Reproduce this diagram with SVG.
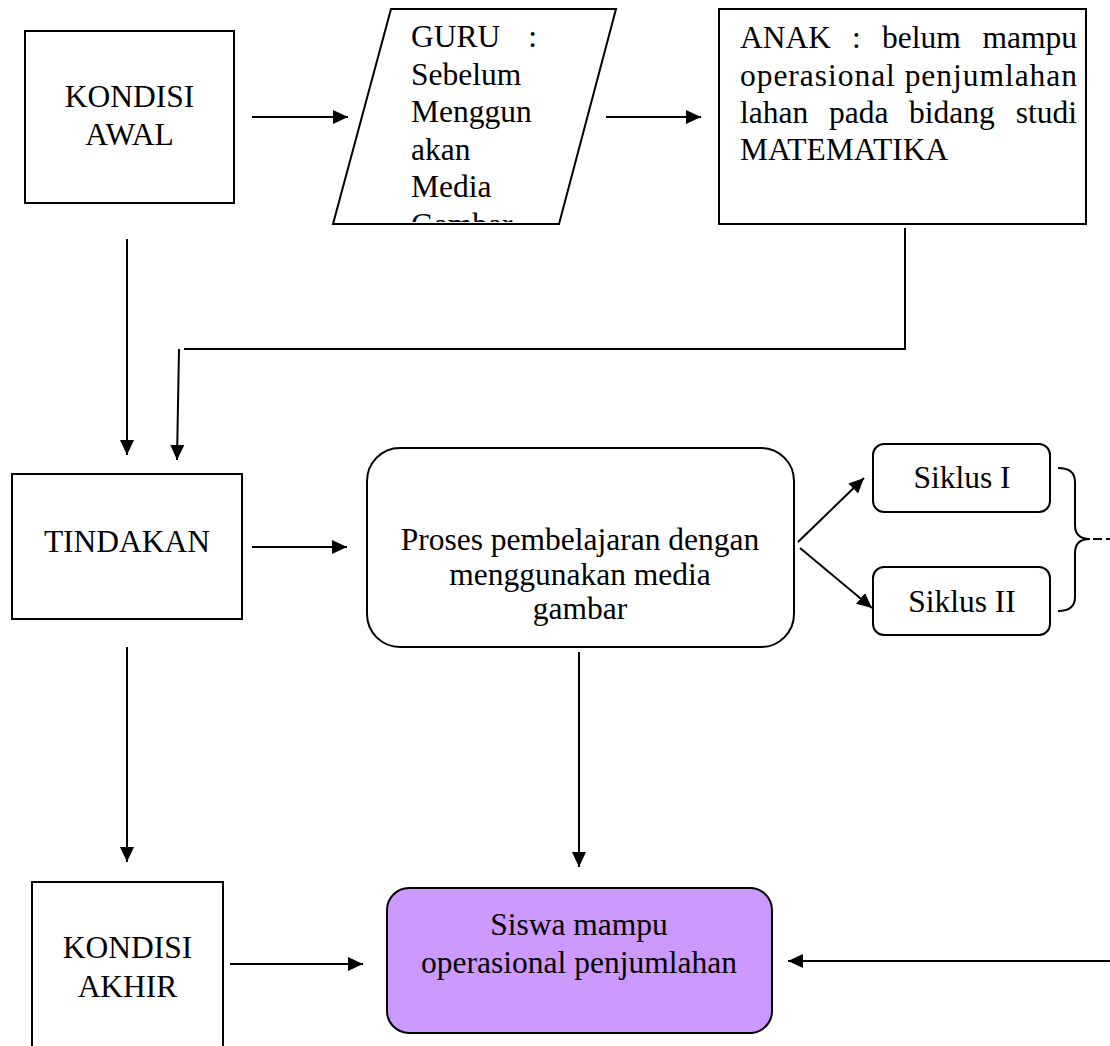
<svg xmlns="http://www.w3.org/2000/svg" width="1110" height="1046" viewBox="0 0 1110 1046">
<style>
.box{fill:#fff;stroke:#000;stroke-width:2}
.t{font-family:"Liberation Serif","Times New Roman",serif;font-size:31.5px;fill:#000}
.c{text-anchor:middle}
.e{text-anchor:end}
.ln{fill:none;stroke:#000;stroke-width:2}
.arr{fill:none;stroke:#000;stroke-width:2;marker-end:url(#ah)}
</style>
<defs>
<marker id="ah" markerUnits="userSpaceOnUse" markerWidth="15" markerHeight="14" refX="15" refY="7" orient="auto">
<path d="M0,0 L15,7 L0,14 z" fill="#000"/>
</marker>
<clipPath id="pclip"><rect x="330" y="0" width="300" height="222"/></clipPath>
</defs>
<rect width="1110" height="1046" fill="#fff"/>

<g id="kondisi-awal">
<rect class="box" x="25" y="31" width="209" height="172"/>
<text class="t c" x="129.5" y="107">KONDISI</text>
<text class="t c" x="129.5" y="145">AWAL</text>
</g>

<g id="guru">
<polygon class="box" points="391,9 616,9 559,224 333,224"/>
<g clip-path="url(#pclip)">
<text class="t" x="411" y="47">GURU</text>
<text class="t e" x="537" y="47">:</text>
<text class="t" x="411" y="85">Sebelum</text>
<text class="t" x="411" y="122">Menggun</text>
<text class="t" x="411" y="160">akan</text>
<text class="t" x="411" y="197">Media</text>
<text class="t" x="411" y="235">Gambar</text>
</g>
</g>

<g id="anak">
<rect class="box" x="719" y="9" width="367" height="215"/>
<text class="t" x="740" y="48">ANAK</text>
<text class="t" x="852" y="48">:</text>
<text class="t" x="882" y="48">belum</text>
<text class="t e" x="1077" y="48">mampu</text>
<text class="t" x="740" y="85.5" textLength="337" lengthAdjust="spacing">operasional penjumlahan</text>
<text class="t" x="740" y="123">lahan</text>
<text class="t" x="829" y="123">pada</text>
<text class="t" x="909" y="123">bidang</text>
<text class="t e" x="1077" y="123">studi</text>
<text class="t" x="740" y="160">MATEMATIKA</text>
</g>

<g id="tindakan">
<rect class="box" x="12" y="474" width="230" height="145"/>
<text class="t c" x="127" y="552">TINDAKAN</text>
</g>

<g id="proses">
<rect class="box" x="367" y="448" width="427" height="199" rx="33" ry="33"/>
<text class="t c" x="580" y="550">Proses pembelajaran dengan</text>
<text class="t c" x="580" y="585">menggunakan media</text>
<text class="t c" x="580" y="619">gambar</text>
</g>

<g id="siklus1">
<rect class="box" x="873" y="444" width="177" height="68" rx="11" ry="11"/>
<text class="t c" x="962" y="488">Siklus I</text>
</g>

<g id="siklus2">
<rect class="box" x="873" y="567" width="177" height="68" rx="11" ry="11"/>
<text class="t c" x="962" y="612">Siklus II</text>
</g>

<g id="brace">
<path class="ln" d="M1058,468 Q1075,468 1075,482 L1075,525 Q1075,539 1090,539 Q1075,539 1075,553 L1075,597 Q1075,611 1058,611"/>
<line class="ln" x1="1093" y1="539" x2="1110" y2="539" stroke-dasharray="9 4"/>
</g>

<g id="kondisi-akhir">
<rect class="box" x="32" y="882" width="191" height="200"/>
<text class="t c" x="127.5" y="958">KONDISI</text>
<text class="t c" x="127.5" y="997">AKHIR</text>
</g>

<g id="siswa">
<rect x="387" y="888" width="385" height="145" rx="22" ry="22" fill="#cc99ff" stroke="#000" stroke-width="2"/>
<text class="t c" x="579" y="935">Siswa mampu</text>
<text class="t c" x="579" y="973">operasional penjumlahan</text>
</g>

<g id="connectors">
<line class="arr" x1="252" y1="117" x2="348" y2="117"/>
<line class="arr" x1="606" y1="117" x2="701" y2="117"/>
<polyline class="ln" points="905,228 905,349 184,349"/>
<line class="arr" x1="179" y1="349" x2="177" y2="460"/>
<line class="arr" x1="127" y1="239" x2="127" y2="455"/>
<line class="arr" x1="252" y1="547" x2="347" y2="547"/>
<line class="arr" x1="798" y1="542" x2="864" y2="478"/>
<line class="arr" x1="800" y1="548" x2="872" y2="608"/>
<line class="arr" x1="127" y1="647" x2="127" y2="862"/>
<line class="arr" x1="579" y1="652" x2="579" y2="867"/>
<line class="arr" x1="230" y1="964" x2="363" y2="964"/>
<line class="arr" x1="1110" y1="961" x2="788" y2="961"/>
</g>
</svg>
